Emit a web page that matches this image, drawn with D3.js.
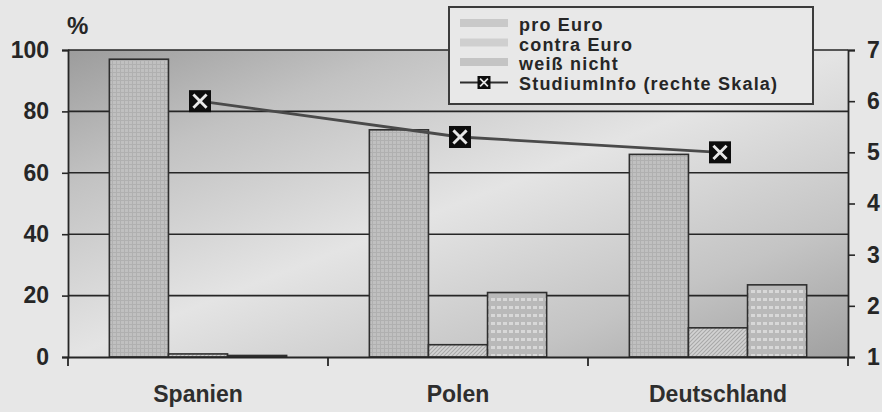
<!DOCTYPE html>
<html>
<head>
<meta charset="utf-8">
<script src="https://cdn.jsdelivr.net/npm/d3@7"></script>
<style>
  html, body { margin: 0; padding: 0; background: #e7e7e7; }
  svg { display: block; }
  text { font-family: "Liberation Sans", Arial, sans-serif; }
</style>
</head>
<body>
<svg id="chart" width="882" height="412"></svg>
<script>
// Survey data: attitude towards the Euro per country (%), plus StudiumInfo rating (right scale)
const categories = ["Spanien", "Polen", "Deutschland"];
const seriesNames = ["pro Euro", "contra Euro", "weiß nicht"];
const proEuro = [97, 74, 66];
const contraEuro = [1, 4, 9.5];
const weissNicht = [0.5, 21, 23.5];
const studiumInfo = [6.0, 5.3, 5.0];
const leftTicks = [0, 20, 40, 60, 80, 100];
const rightTicks = [1, 2, 3, 4, 5, 6, 7];
const lineLabel = "StudiumInfo (rechte Skala)";

const svg = d3.select("#chart");
const W = 882, H = 412;
const plot = { left: 68, right: 848, top: 50, bottom: 357 };

svg.append("rect").attr("width", W).attr("height", H).attr("fill", "#e7e7e7");

const defs = svg.append("defs");

// plot-area background: dark corners, light diagonal band
const bg = defs.append("linearGradient").attr("id", "plotBg")
  .attr("x1", 0).attr("y1", 0).attr("x2", 1).attr("y2", 1);
bg.append("stop").attr("offset", "0").attr("stop-color", "#9c9c9c");
bg.append("stop").attr("offset", "0.22").attr("stop-color", "#c2c2c2");
bg.append("stop").attr("offset", "0.5").attr("stop-color", "#e4e4e4");
bg.append("stop").attr("offset", "0.78").attr("stop-color", "#c4c4c4");
bg.append("stop").attr("offset", "1").attr("stop-color", "#a0a0a0");

// fine grid fill for "pro Euro"
const pPro = defs.append("pattern").attr("id", "patPro")
  .attr("patternUnits", "userSpaceOnUse").attr("width", 4).attr("height", 4);
pPro.append("rect").attr("width", 4).attr("height", 4).attr("fill", "#c0c0c0");
pPro.append("rect").attr("width", 4).attr("height", 1).attr("fill", "#b0b0b0");
pPro.append("rect").attr("width", 1).attr("height", 4).attr("fill", "#b0b0b0");

// diagonal hatching for "contra Euro"
const pCon = defs.append("pattern").attr("id", "patCon")
  .attr("patternUnits", "userSpaceOnUse").attr("width", 4).attr("height", 4);
pCon.append("rect").attr("width", 4).attr("height", 4).attr("fill", "#d2d2d2");
pCon.append("path").attr("d", "M0,4 L4,0 M-1,1 L1,-1 M3,5 L5,3")
  .attr("stroke", "#a8a8a8").attr("stroke-width", 1.1);

// brick-like dashes for "weiß nicht"
const pWn = defs.append("pattern").attr("id", "patWn")
  .attr("patternUnits", "userSpaceOnUse").attr("width", 6).attr("height", 8);
pWn.append("rect").attr("width", 6).attr("height", 8).attr("fill", "#b9b9b9");
pWn.append("rect").attr("x", 1).attr("y", 2).attr("width", 4).attr("height", 3).attr("fill", "#d8d8d8");

const fills = { "pro Euro": "url(#patPro)", "contra Euro": "url(#patCon)", "weiß nicht": "url(#patWn)" };
const swatchFills = { "pro Euro": "#c9c9c9", "contra Euro": "#cfcfcf", "weiß nicht": "#c4c4c4" };

// scales
const x0 = d3.scaleBand().domain(categories).range([plot.left, plot.right]).padding(0);
const x1 = d3.scaleBand().domain(seriesNames).range([0, x0.bandwidth()])
  .paddingInner(0).paddingOuter(0.7);
const y = d3.scaleLinear().domain([0, 100]).range([plot.bottom, plot.top]);
const yR = d3.scaleLinear().domain([1, 7]).range([plot.bottom, plot.top]);

// plot background
svg.append("rect")
  .attr("x", plot.left).attr("y", plot.top)
  .attr("width", plot.right - plot.left).attr("height", plot.bottom - plot.top)
  .attr("fill", "url(#plotBg)");

// horizontal gridlines
svg.append("g").selectAll("line").data(leftTicks.filter(d => d > 0)).join("line")
  .attr("x1", plot.left).attr("x2", plot.right)
  .attr("y1", d => y(d)).attr("y2", d => y(d))
  .attr("stroke", "#262626").attr("stroke-width", 1.6);

// bars
const rows = categories.map((c, i) => ({
  cat: c,
  vals: [
    { s: "pro Euro", v: proEuro[i] },
    { s: "contra Euro", v: contraEuro[i] },
    { s: "weiß nicht", v: weissNicht[i] }
  ]
}));
const groups = svg.append("g").selectAll("g").data(rows).join("g")
  .attr("transform", d => `translate(${x0(d.cat)},0)`);
groups.selectAll("rect").data(d => d.vals).join("rect")
  .attr("x", d => x1(d.s))
  .attr("width", x1.bandwidth())
  .attr("y", d => y(d.v))
  .attr("height", d => y(0) - y(d.v))
  .attr("fill", d => fills[d.s])
  .attr("stroke", "#2e2e2e").attr("stroke-width", 1.6);

// left axis
const axL = svg.append("g").attr("transform", `translate(${plot.left},0)`)
  .call(d3.axisLeft(y).tickValues(leftTicks).tickSize(6).tickPadding(13).tickFormat(d3.format("d")));
axL.select(".domain").attr("stroke", "#262626").attr("stroke-width", 1.8);
axL.selectAll(".tick line").attr("stroke", "#262626").attr("stroke-width", 1.6);
axL.selectAll("text").attr("font-size", 23).attr("font-weight", "bold").attr("fill", "#262626");

// right axis
const axR = svg.append("g").attr("transform", `translate(${plot.right},0)`)
  .call(d3.axisRight(yR).tickValues(rightTicks).tickSize(7).tickPadding(12).tickFormat(d3.format("d")));
axR.select(".domain").attr("stroke", "#262626").attr("stroke-width", 1.8);
axR.selectAll(".tick line").attr("stroke", "#262626").attr("stroke-width", 1.6);
axR.selectAll("text").attr("font-size", 23).attr("font-weight", "bold").attr("fill", "#262626");

// bottom axis: baseline, category labels and boundary ticks
const axB = svg.append("g").attr("transform", `translate(0,${plot.bottom})`)
  .call(d3.axisBottom(x0).tickSize(0).tickPadding(29));
axB.select(".domain").attr("stroke", "#262626").attr("stroke-width", 1.8);
axB.selectAll("text").attr("font-size", 23).attr("font-weight", "bold").attr("fill", "#2e2e2e");
const bounds = categories.map(c => x0(c)).concat([x0.range()[1]]);
axB.append("g").selectAll("line").data(bounds).join("line")
  .attr("x1", d => d).attr("x2", d => d).attr("y1", 0).attr("y2", 9)
  .attr("stroke", "#262626").attr("stroke-width", 1.8);

// unit label
svg.append("text").attr("x", 67).attr("y", 34)
  .attr("font-size", 24).attr("font-weight", "bold").attr("fill", "#262626").text("%");

// marker: black square with a light X
function marker(g, size) {
  const h = size / 2, k = h - size * 0.2;
  g.append("rect").attr("x", -h).attr("y", -h).attr("width", size).attr("height", size)
    .attr("fill", "#0d0d0d");
  g.append("path").attr("d", `M${-k},${-k}L${k},${k}M${-k},${k}L${k},${-k}`)
    .attr("stroke", "#e8e8e8").attr("stroke-width", size * 0.13);
}

// StudiumInfo line on the right scale
const pts = categories.map((c, i) => [x0(c) + x0.bandwidth() / 2 + 2, yR(studiumInfo[i])]);
svg.append("path").datum(pts)
  .attr("d", d3.line())
  .attr("fill", "none").attr("stroke", "#4a4a4a").attr("stroke-width", 2.8);
svg.append("g").selectAll("g").data(pts).join("g")
  .attr("transform", d => `translate(${d[0]},${d[1]})`)
  .each(function () { marker(d3.select(this), 22); });

// legend
const lg = svg.append("g");
lg.append("rect").attr("x", 449).attr("y", 7).attr("width", 364).attr("height", 97)
  .attr("fill", "#e8e8e8").attr("stroke", "#3c3c3c").attr("stroke-width", 2);
const legendItems = seriesNames.concat([lineLabel]);
const lgRow = lg.selectAll("g").data(legendItems).join("g")
  .attr("transform", (d, i) => `translate(0,${31 + i * 19.5})`);
lgRow.filter(d => d !== lineLabel).append("rect")
  .attr("x", 460).attr("y", -12).attr("width", 48).attr("height", 8)
  .attr("fill", d => swatchFills[d]);
const lineRow = lgRow.filter(d => d === lineLabel);
lineRow.append("line").attr("x1", 460).attr("x2", 508).attr("y1", -7).attr("y2", -7)
  .attr("stroke", "#2e2e2e").attr("stroke-width", 2);
lineRow.append("g").attr("transform", "translate(484,-7)")
  .each(function () { marker(d3.select(this), 13); });
lgRow.append("text").attr("x", 519).attr("y", 0)
  .attr("font-size", 18).attr("font-weight", "bold").attr("letter-spacing", 1.2)
  .attr("fill", "#262626")
  .text(d => d);
</script>
</body>
</html>
